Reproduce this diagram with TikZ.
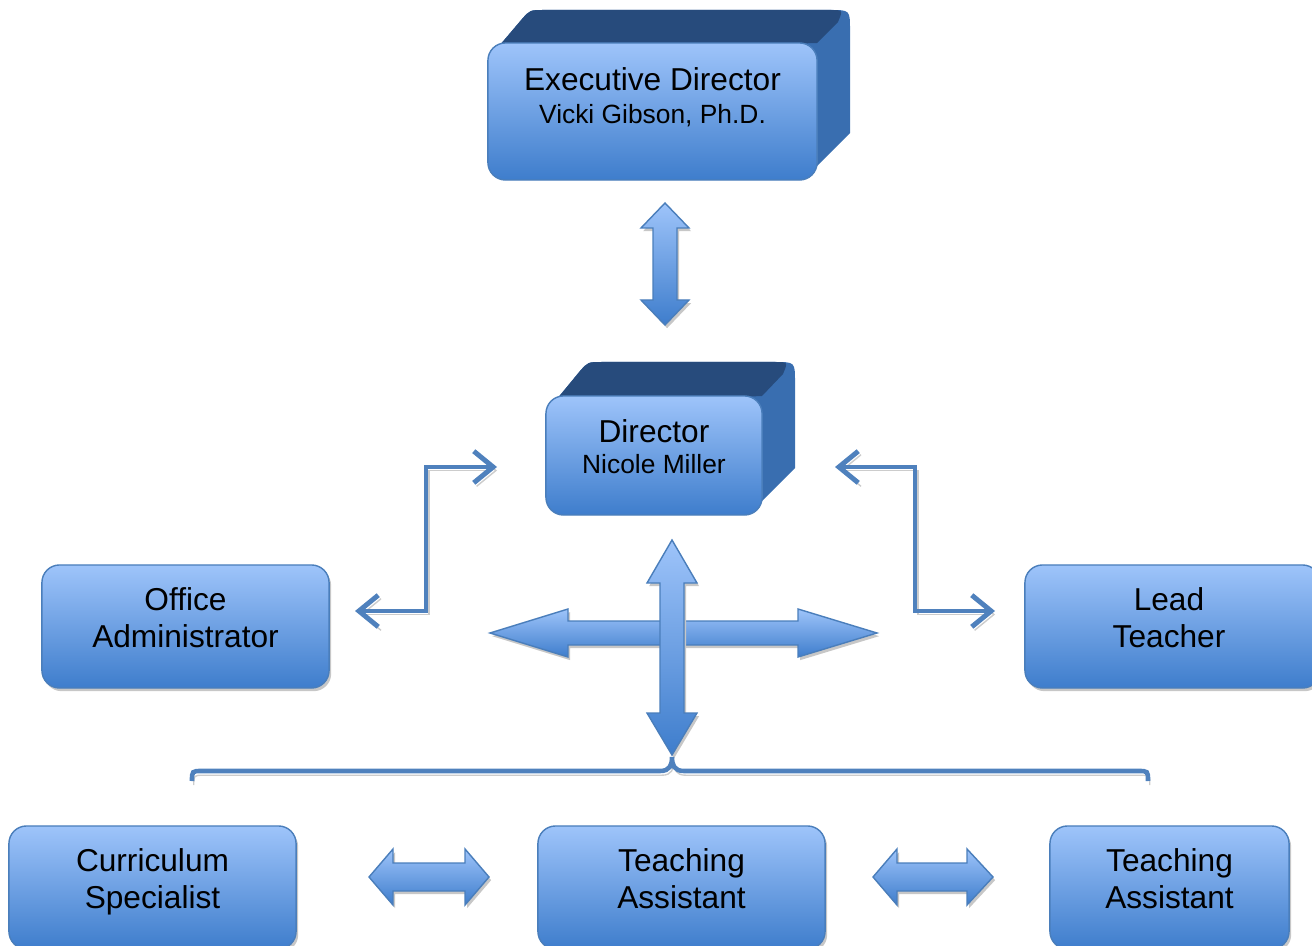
\documentclass[tikz,border=0pt]{standalone}
\usepackage{fontspec}
\setmainfont{Liberation Sans}
\usetikzlibrary{arrows.meta,shadows,calc}

\definecolor{boxtop}{RGB}{158,196,250}
\definecolor{boxbot}{RGB}{62,125,204}
\definecolor{boxline}{RGB}{74,126,187}
\definecolor{topface}{RGB}{39,75,124}
\definecolor{sideface}{RGB}{57,110,176}
\definecolor{linkblue}{RGB}{79,129,189}

\newcommand{\subsize}{\fontsize{7.5}{9}\selectfont}

\tikzset{
  frontbox/.style={rectangle, rounded corners=5pt, draw=boxline, line width=0.4pt,
    top color=boxtop, bottom color=boxbot, inner sep=0pt},
  orgbox/.style={frontbox, drop shadow={shadow xshift=0.6pt, shadow yshift=-0.9pt, fill=black!22, opacity=1}},
  lbl/.style={font=\fontsize{9}{10.5}\selectfont, align=center, inner sep=0pt, text depth=0pt},
  blockarrow/.style={draw=boxline, line width=0.4pt, top color=boxtop, bottom color=boxbot,
    drop shadow={shadow xshift=0.6pt, shadow yshift=-0.9pt, fill=black!22, opacity=1}},
  link/.style={draw=linkblue, line width=1.4pt,
    {Straight Barb[length=5.5pt, width=9pt]}-{Straight Barb[length=5.5pt, width=9pt]},
    preaction={draw=black!20, transform canvas={xshift=0.8pt, yshift=-1pt}}},
  bracket/.style={draw=linkblue, line width=1.3pt,
    preaction={draw=black!20, transform canvas={xshift=0.5pt, yshift=-1.2pt}}}
}

\begin{document}
\begin{tikzpicture}[x=0.01cm, y=-0.01cm]
\useasboundingbox (0,0) rectangle (1312,946);

% executive director, 3d block
\fill[sideface] (494,52) -- (522,19) .. controls (530,10) .. (544,10) -- (830,10)
  .. controls (850,10) .. (850,30) -- (850,133) -- (812,171) -- cycle;
\fill[topface] (494,52) -- (522,19) .. controls (530,10) .. (544,10) -- (830,10)
  .. controls (843,10) .. (838,22) -- (817,43) -- cycle;
\node[frontbox, minimum width=3.29cm, minimum height=1.37cm] (exec) at (652.5,111.5) {};
\node[lbl] (execlbl) at ([yshift=4.6pt]exec.center) {Executive Director\\[-1pt]{\subsize Vicki Gibson, Ph.D.}};

% director, 3d block
\fill[sideface] (552,405) -- (580,371) .. controls (588,362) .. (602,362) -- (775,362)
  .. controls (795,362) .. (795,382) -- (795,468) -- (757,506) -- cycle;
\fill[topface] (552,405) -- (580,371) .. controls (588,362) .. (602,362) -- (775,362)
  .. controls (788,362) .. (783,374) -- (762,396) -- cycle;
\node[frontbox, minimum width=2.16cm, minimum height=1.19cm] (dir) at (654,455.5) {};
\node[lbl] (dirlbl) at ([yshift=2.5pt]dir.center) {Director\\[-1.5pt]{\subsize Nicole Miller}};

% staff boxes
\node[orgbox, minimum width=2.87cm, minimum height=1.23cm] (office) at (185.5,626.5) {};
\node[lbl] (officelbl) at ([yshift=2.5pt]office.center) {Office\\Administrator};
\node[orgbox, minimum width=2.95cm, minimum height=1.23cm] (lead) at (1172.5,626.5) {};
\node[lbl] (leadlbl) at ([xshift=-1pt, yshift=2.5pt]lead.center) {Lead\\Teacher};

\node[orgbox, minimum width=2.87cm, minimum height=1.23cm] (curric) at (152.5,887.5) {};
\node[lbl] (curriclbl) at ([yshift=2.5pt]curric.center) {Curriculum\\Specialist};
\node[orgbox, minimum width=2.87cm, minimum height=1.23cm] (assista) at (681.5,887.5) {};
\node[lbl] (assistalbl) at ([yshift=2.5pt]assista.center) {Teaching\\Assistant};
\node[orgbox, minimum width=2.39cm, minimum height=1.23cm] (assistb) at (1169.5,887.5) {};
\node[lbl] (assistblbl) at ([yshift=2.5pt]assistb.center) {Teaching\\Assistant};

% block arrows
\path[blockarrow] (665,203) -- (689,228) -- (677,228) -- (677,300) -- (689,300) -- (665,325)
  -- (641,300) -- (653,300) -- (653,228) -- (641,228) -- cycle;
\path[blockarrow] (490,633) -- (568,609) -- (568,621) -- (798,621) -- (798,609) -- (877,633)
  -- (798,657) -- (798,645) -- (568,645) -- (568,657) -- cycle;
\path[blockarrow] (672,540) -- (697,583) -- (684,583) -- (684,713) -- (697,713) -- (672,755)
  -- (647,713) -- (660,713) -- (660,583) -- (647,583) -- cycle;
\path[blockarrow] (369,877) -- (393,849) -- (393,863) -- (465,863) -- (465,849) -- (489,877)
  -- (465,905) -- (465,891) -- (393,891) -- (393,905) -- cycle;
\path[blockarrow] (873,877) -- (897,849) -- (897,863) -- (967,863) -- (967,849) -- (993,877)
  -- (967,905) -- (967,891) -- (897,891) -- (897,905) -- cycle;

% elbow links
\coordinate (la) at (497,467);
\coordinate (lb) at (355,611);
\coordinate (ra) at (835,467);
\coordinate (rb) at (995,611);
\draw[link] (la) -| ($(la)!.5!(lb)$) |- (lb);
\draw[link] (ra) -| ($(ra)!.5!(rb)$) |- (rb);

% bracket over the bottom row
\draw[bracket] (192,781) .. controls (192,771) .. (202,771) -- (660,771)
  .. controls (670,771) and (672,765) .. (672,757)
  .. controls (672,765) and (674,771) .. (684,771) -- (1138,771)
  .. controls (1148,771) .. (1148,781);
\end{tikzpicture}
\end{document}
